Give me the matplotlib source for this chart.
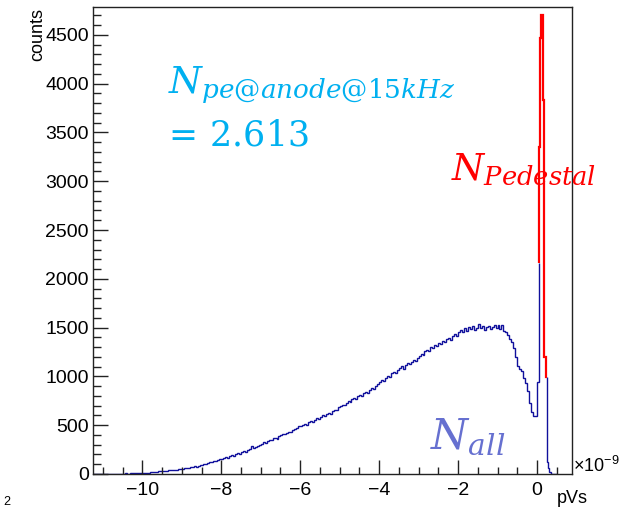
import numpy as np
import matplotlib.pyplot as plt
from matplotlib.ticker import MultipleLocator

plt.rcParams['font.family'] = ['Liberation Sans', 'DejaVu Sans']
plt.rcParams['mathtext.fontset'] = 'custom'
plt.rcParams['mathtext.rm'] = 'Liberation Sans'
plt.rcParams['mathtext.it'] = 'Liberation Sans:italic'

# histogramme complet (bins de 0.05 x 1e-9 pVs, de -11.25 a 0.05)
bin_lo = -11.25
bin_w = 0.05
counts_main = [
    0, 0, 1, 0, 2, 1, 0, 3, 1, 2, 4, 2, 3, 5, 3, 4, 6, 5, 4, 7, 6, 8, 7, 9, 10,
    10, 12, 15, 14, 18, 20, 24, 22, 26, 28, 30, 34, 32, 36, 40, 38, 44, 46, 50, 53,
    55, 58, 62, 60, 68, 72, 78, 75, 84, 90, 95, 104, 100, 112, 118, 122, 130, 136, 148, 152,
    158, 165, 172, 168, 180, 192, 186, 200, 212, 205, 225, 232, 228, 245, 252, 290, 262, 275, 285, 300,
    310, 325, 318, 340, 352, 345, 365, 372, 360, 385, 398, 412, 405, 420, 432, 428, 450, 462, 470, 488,
    495, 505, 512, 500, 528, 540, 535, 555, 570, 562, 585, 600, 592, 612, 625, 618, 648, 660, 655, 690,
    700, 712, 705, 730, 745, 738, 765, 778, 770, 795, 810, 802, 828, 842, 835, 860, 880, 872, 905, 925,
    940, 962, 955, 985, 1000, 990, 1030, 1045, 1035, 1065, 1085, 1110, 1072, 1120, 1135, 1125, 1150, 1165, 1158, 1190,
    1205, 1230, 1215, 1260, 1275, 1265, 1300, 1290, 1325, 1310, 1340, 1332, 1365, 1350, 1380, 1395, 1372, 1410, 1430, 1418,
    1450, 1475, 1458, 1495, 1470, 1510, 1488, 1520, 1480, 1500, 1535, 1492, 1515, 1478, 1505, 1520, 1488, 1510, 1530, 1495,
    1525, 1490, 1530, 1470, 1450, 1420, 1380, 1350, 1290, 1200, 1110, 1080, 1060, 980, 930, 850, 730, 640, 590, 595,
    946,
]
# montee vers le piedestal (cache ensuite par la trace rouge)
rise_top = 2160
# queue a droite du piedestal
tail_edges = [0.245, 0.245, 0.27, 0.30, 0.35, 0.40, 0.45, 0.50]
tail_counts = [997, 120, 60, 22, 5, 0, 0]

# piedestal (trace rouge)
ped_edges = [0.05, 0.05, 0.08, 0.10, 0.145, 0.16, 0.19, 0.225, 0.245]
ped_counts = [rise_top, 3350, 4467, 4703, 4634, 3832, 1200, 997]

main_edges = bin_lo + bin_w * np.arange(len(counts_main) + 1)
main_edges = np.append(main_edges, main_edges[-1])
main_vals = counts_main + [rise_top]

W, H = 633, 515
fig = plt.figure(figsize=(W / 100, H / 100), dpi=100)
ax = fig.add_axes([93 / W, 1 - 474 / H, (571.5 - 93) / W, (474 - 7) / H])

blue = '#10109c'
ax.stairs(main_vals, main_edges, baseline=None, color=blue, linewidth=1.0)
ax.stairs(tail_counts, tail_edges, baseline=None, color=blue, linewidth=1.0)
ax.stairs(ped_counts, ped_edges, baseline=None, color='#ff0000', linewidth=1.6)

ax.set_xlim(-11.25, 0.875)
ax.set_ylim(0, 4785)

ax.xaxis.set_major_locator(MultipleLocator(2))
ax.xaxis.set_minor_locator(MultipleLocator(0.5))
ax.yaxis.set_major_locator(MultipleLocator(500))
ax.yaxis.set_minor_locator(MultipleLocator(100))
ax.tick_params(axis='both', which='both', direction='in', top=False, right=False,
               labelsize=14, width=1.0, color='#222222')
ax.tick_params(axis='y', which='major', length=11, pad=3)
ax.tick_params(axis='y', which='minor', length=6)
ax.tick_params(axis='x', which='major', length=10, pad=6)
ax.tick_params(axis='x', which='minor', length=5)
for s in ax.spines.values():
    s.set_linewidth(1.0)
    s.set_color('#222222')

# textes des axes
fig.text(38 / W, 1 - 8 / H, 'counts', rotation=90, ha='center', va='top', fontsize=13)
fig.text(572 / W, 1 - 503 / H, 'pVs', ha='center', va='baseline', fontsize=13)
fig.text(573 / W, 1 - 472 / H, r'×10$^{-9}$', ha='left', va='baseline', fontsize=13)
fig.text(3 / W, 1 - 505 / H, '2', ha='left', va='baseline', fontsize=9)

# annotations
fig.text(168 / W, 1 - 93 / H, r'$N_{pe@anode@15kHz}$', color='#00b0f0',
         fontsize=27, math_fontfamily='dejavuserif', ha='left', va='baseline')
fig.text(162 / W, 1 - 145 / H, r'$=\,2.613$', color='#00b0f0',
         fontsize=25, math_fontfamily='dejavuserif', ha='left', va='baseline')
fig.text(451 / W, 1 - 180 / H, r'$N_{Pedestal}$', color='#ff0000',
         fontsize=26.5, math_fontfamily='dejavuserif', ha='left', va='baseline')
fig.text(430 / W, 1 - 448 / H, r'$N_{all}$', color='#6670d0',
         fontsize=30.5, math_fontfamily='dejavuserif', ha='left', va='baseline')

fig.savefig('out.png', dpi=100)
